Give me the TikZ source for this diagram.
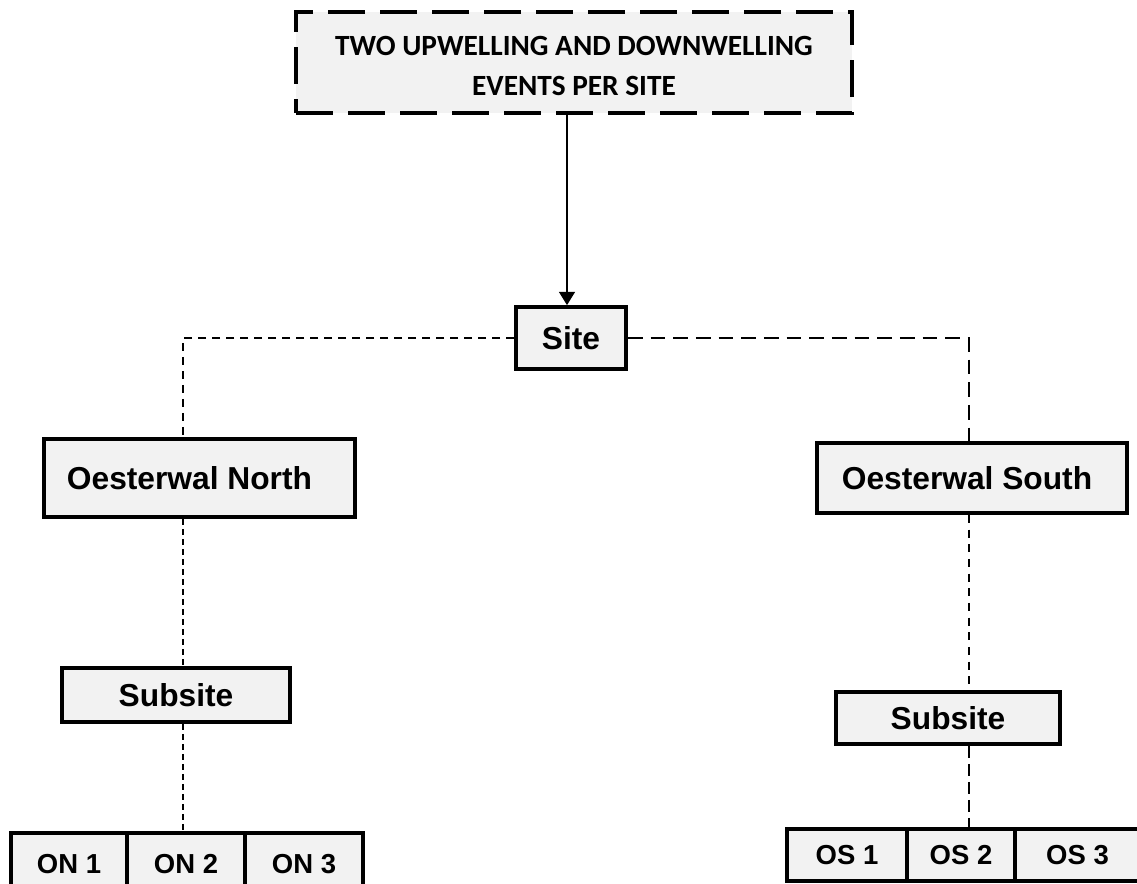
\documentclass[tikz,border=0pt]{standalone}
\usepackage{fontspec}
\setmainfont{Liberation Sans}
\newfontfamily\calib{Carlito}
\usetikzlibrary{arrows.meta}
\definecolor{boxfill}{HTML}{F2F2F2}
\begin{document}
\begin{tikzpicture}[x=0.75pt,y=-0.75pt,
  box/.style={draw=black,line width=2.8pt,fill=boxfill,inner sep=0pt,
    font=\fontsize{23.8}{28}\selectfont\bfseries},
  smallbox/.style={box,font=\fontsize{20.6}{24}\selectfont\bfseries},
  topbox/.style={box,line width=3.6pt,dash pattern=on 28pt off 11pt,align=center,
    font=\calib\bfseries\fontsize{22}{30}\selectfont},
  conA/.style={line width=1.1pt,dash pattern=on 6pt off 4.5pt},
  conB/.style={line width=1.4pt,dash pattern=on 11pt off 6pt},
  conC/.style={line width=1pt,dash pattern=on 4.5pt off 3pt},
  conD/.style={line width=1.6pt,dash pattern=on 6pt off 5pt},
  conE/.style={line width=1.6pt,dash pattern=on 9pt off 4.5pt},
  arr/.style={line width=1.1pt,-{Triangle[length=10pt,width=12pt]}}
]
\clip (0,0) rectangle (1137,883);
\fill[white] (0,0) rectangle (1137,883);
\coordinate (lx) at (183,0);
\coordinate (rx) at (969,0);

\node[topbox,minimum width=556*0.75pt,minimum height=101*0.75pt] (top) at (574,62.5)
  {\rule{0pt}{19pt}TWO UPWELLING AND DOWNWELLING\\EVENTS PER SITE};
\node[box,minimum width=110*0.75pt,minimum height=62*0.75pt] (site) at (571,338) {Site};
\node[box,minimum width=311*0.75pt,minimum height=78*0.75pt] (north) at (199.5,478)
  {Oesterwal North\hspace*{15pt}};
\node[box,minimum width=310*0.75pt,minimum height=70*0.75pt] (south) at (972,478)
  {Oesterwal South\hspace*{7.5pt}};
\node[box,minimum width=228*0.75pt,minimum height=54*0.75pt] (sub1) at (176,695) {Subsite};
\node[box,minimum width=224*0.75pt,minimum height=52*0.75pt] (sub2) at (948,718) {Subsite};

\node[smallbox,minimum width=116*0.75pt,minimum height=62*0.75pt] (on1) at (69,864) {ON 1};
\node[smallbox,minimum width=118*0.75pt,minimum height=62*0.75pt] (on2) at (186,864) {ON 2};
\node[smallbox,minimum width=118*0.75pt,minimum height=62*0.75pt] (on3) at (304,864) {ON 3};
\node[smallbox,minimum width=120*0.75pt,minimum height=52*0.75pt] (os1) at (847,855) {OS 1};
\node[smallbox,minimum width=108*0.75pt,minimum height=52*0.75pt] (os2) at (961,855) {OS 2};
\node[smallbox,minimum width=125*0.75pt,minimum height=52*0.75pt] (os3) at (1077.5,855) {OS 3};

\draw[arr] (top.south -| 567,0) -- (site.north -| 567,0);
\draw[conA] (site.west) -| (north.north -| lx);
\draw[conB] (site.east) -| (south.north -| rx);
\draw[conC] (north.south -| lx) -- (sub1.north -| lx);
\draw[conD] (south.south -| rx) -- (sub2.north -| rx);
\draw[conC] (sub1.south -| lx) -- (on2.north -| lx);
\draw[conE] (sub2.south -| rx) -- (os2.north -| rx);
\end{tikzpicture}
\end{document}
